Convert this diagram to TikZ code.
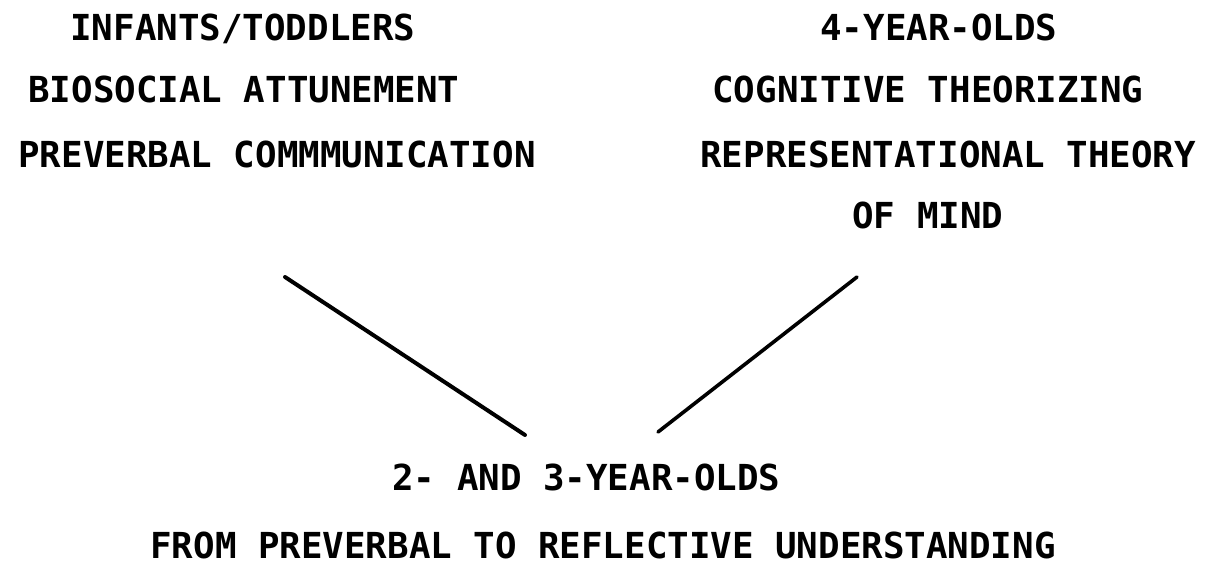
\documentclass[tikz,border=0pt]{standalone}
\usepackage{fontspec}
\newfontfamily\plotfont{DejaVu Sans Mono}
\usetikzlibrary{positioning}
\tikzset{
  caption/.style={font=\plotfont\bfseries\fontsize{17.9}{20}\selectfont, inner sep=0pt, anchor=base west},
  link/.style={line width=2pt, line cap=round},
}

\begin{document}
\begin{tikzpicture}[x=0.5pt, y=-0.5pt]
\useasboundingbox (0,0) rectangle (1211,567);

% infants / toddlers (left)
\node[caption] (infants) at (70,41)  {INFANTS/TODDLERS};
\node[caption] (bio)     at (28,103) {BIOSOCIAL ATTUNEMENT};
\node[caption] (preverb) at (18,168) {PREVERBAL COMMMUNICATION};

% four-year-olds (right)
\node[caption] (four)    at (820,41)  {4-YEAR-OLDS};
\node[caption] (cogn)    at (712,103) {COGNITIVE THEORIZING};
\node[caption] (repr)    at (700,168) {REPRESENTATIONAL THEORY};
\node[caption] (mind)    at (852,228) {OF MIND};

% two- and three-year-olds (bottom)
\node[caption] (twothree) at (392,490) {2- AND 3-YEAR-OLDS};
\node[caption] (reflect)  at (150,558) {FROM PREVERBAL TO REFLECTIVE UNDERSTANDING};

% line ends
\coordinate (la) at (285,277);
\coordinate (lb) at (525,435);
\coordinate (ra) at (857,277);
\coordinate (rb) at (658,432);

\draw[link] (la) -- (lb);
\draw[link, line width=1.8pt] (ra) -- (rb);
\end{tikzpicture}
\end{document}
